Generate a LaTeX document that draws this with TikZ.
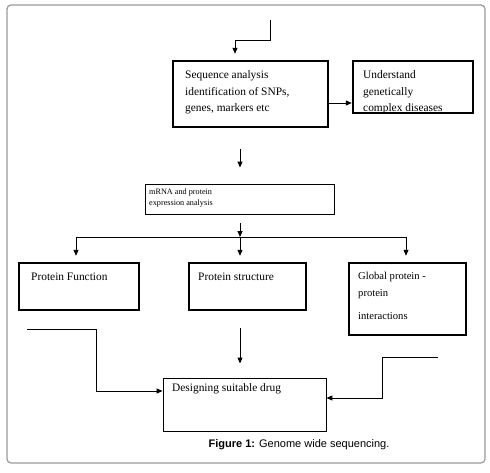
\documentclass[tikz,border=0pt]{standalone}
\usepackage{fontspec}
\setmainfont{Liberation Serif}
\newfontfamily\capfont{Liberation Sans}
\usetikzlibrary{arrows.meta}
\newcommand\firstbase[1]{\parbox[t]{160pt}{\raggedright #1}}
\begin{document}
\begin{tikzpicture}[x=1pt,y=-1pt,
  thickbox/.style={draw, line width=2.4pt, inner sep=0pt},
  thinbox/.style={draw, line width=0.9pt, inner sep=0pt},
  conn/.style={line width=1pt},
  arr/.style={conn, -{Triangle[length=6pt,width=5pt]}},
  txt/.style={anchor=base west, inner sep=0pt, font=\fontsize{11.4}{16.7}\selectfont},
  smalltxt/.style={txt, font=\fontsize{8.2}{10.5}\selectfont}]
\useasboundingbox (0,0) rectangle (490,472);
% frame
\draw[line width=1.2pt, color=black!40, rounded corners=4pt] (7,5) rectangle (485,463);
% boxes
\node[thickbox, minimum width=155pt, minimum height=66pt] (seq) at (250.5,94) {};
\node[thickbox, minimum width=120pt, minimum height=52pt] (und) at (413,87) {};
\node[thinbox, minimum width=189pt, minimum height=30pt] (mrna) at (239.5,199) {};
\node[thickbox, minimum width=120pt, minimum height=47pt] (func) at (79,286.5) {};
\node[thickbox, minimum width=117pt, minimum height=47pt] (struct) at (247.5,286.5) {};
\node[thickbox, minimum width=117pt, minimum height=72pt] (glob) at (407.5,299) {};
\node[thinbox, minimum width=163pt, minimum height=53pt] (des) at (244.5,404.5) {};
% texts
\node[txt] (tseq) at (185,78.5) {\firstbase{Sequence analysis\\identification of SNPs,\\genes, markers etc}};
\node[txt] (tund) at (363,78.5) {\firstbase{Understand\\genetically\\complex diseases}};
\node[smalltxt] (tmrna) at (149,194.5) {\firstbase{mRNA and protein\\expression analysis}};
\node[txt] (tfunc) at (31,280.5) {Protein Function};
\node[txt] (tstruct) at (198,280.5) {Protein structure};
\node[txt, font=\fontsize{10.6}{17.5}\selectfont] (tglob) at (358,279) {\firstbase{Global protein -\\protein\\[5.5pt]interactions}};
\node[txt] (tdes) at (172,391.5) {Designing suitable drug};
\node[anchor=base, inner sep=0pt, font=\capfont\fontsize{11}{13}\selectfont] (cap) at (299,447) {\textbf{Figure 1:} Genome wide sequencing.};
% connectors
\coordinate (in1) at (270,20);
\coordinate (bend1) at (235,40);
\draw[arr, shorten >=6pt] (in1) |- (bend1) -- (bend1 |- seq.north);
\coordinate (a1) at (328,103);
\draw[arr] (seq.east |- a1) -- (und.west |- a1);
\draw[arr, shorten <=21pt, shorten >=16pt] (seq.south -| 240,0) -- (mrna.north -| 240,0);
\coordinate (hub) at (240,237);
\coordinate (hl) at (76,237);
\coordinate (hr) at (406,237);
\draw[arr, shorten <=9pt] (mrna.south -| hub) -- (hub);
\draw[line width=0.8pt] (hl) -- (hr);
\draw[arr, shorten >=6pt] (hub) -- (hub |- struct.north);
\draw[arr, shorten >=6pt] (hl) -- (hl |- func.north);
\draw[arr, shorten >=6pt] (hr) -- (hr |- glob.north);
\coordinate (inL) at (27,329);
\coordinate (bL) at (96,391);
\draw[arr] (inL) -| (bL) -- (des.west |- bL);
\coordinate (cs) at (240,328);
\draw[arr, shorten >=14pt] (cs) -- (cs |- des.north);
\coordinate (inR) at (438,357);
\coordinate (bR) at (382,398);
\draw[arr] (inR) -| (bR) -- (des.east |- bR);
\end{tikzpicture}
\end{document}
